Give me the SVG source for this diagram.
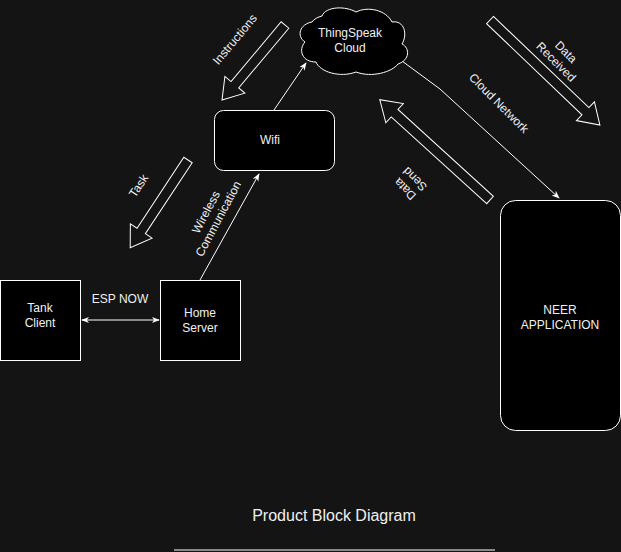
<svg xmlns="http://www.w3.org/2000/svg" width="621" height="552" viewBox="0 0 621 552">
<defs>
<style>
.n{fill:#000;stroke:#fff;stroke-width:1}
.t{font-family:"Liberation Sans",Arial,sans-serif;font-size:12px;fill:#f0f0f0;text-anchor:middle}
.c{stroke:#fff;stroke-width:1;fill:none}
.b{fill:none;stroke:#fff;stroke-width:1}
</style>
<marker id="a" viewBox="0 0 10 10" refX="9" refY="5" markerWidth="8" markerHeight="8" orient="auto-start-reverse"><path d="M0,1 L10,5 L0,9 L3,5 Z" fill="#fff"/></marker>
</defs>
<rect width="621" height="552" fill="#141414"/>
<g id="connectors">
<line class="c" x1="82" y1="320" x2="159" y2="320" stroke="#bbb" stroke-width="2" marker-start="url(#a)" marker-end="url(#a)"/>
<line class="c" x1="200" y1="280" x2="259" y2="174" marker-end="url(#a)"/>
<line class="c" x1="274" y1="110" x2="306" y2="63" marker-end="url(#a)"/>
<polyline class="c" points="402,61 440,89 559,198" marker-end="url(#a)"/>
<text class="t" x="120" y="303">ESP NOW</text>
<text class="t" transform="translate(213,216) rotate(-62)"><tspan x="0" y="-4">Wireless</tspan><tspan x="0" y="10">Communication</tspan></text>
<text class="t" transform="translate(496,106) rotate(45)">Cloud Network</text>
</g>
<g id="arrow-instructions">
<path class="b" transform="translate(285,25) rotate(130)" d="M0,-5 L78,-5 L78,-13 L98,0 L78,13 L78,5 L0,5 Z"/>
<text class="t" transform="translate(238,42) rotate(-50)">Instructions</text>
</g>
<g id="arrow-task">
<path class="b" transform="translate(188,160) rotate(123.4)" d="M0,-5 L85,-5 L85,-13 L105,0 L85,13 L85,5 L0,5 Z"/>
<text class="t" transform="translate(142,188) rotate(-57)">Task</text>
</g>
<g id="arrow-data-received">
<path class="b" transform="translate(490,20) rotate(43.7)" d="M0,-5 L132,-5 L132,-13 L152,0 L132,13 L132,5 L0,5 Z"/>
<text class="t" transform="translate(561,57) rotate(45)"><tspan x="0" y="-3">Data</tspan><tspan x="0" y="11">Received</tspan></text>
</g>
<g id="arrow-data-send">
<path class="b" transform="translate(490,200) rotate(222.3)" d="M0,-5 L129,-5 L129,-13 L149,0 L129,13 L129,5 L0,5 Z"/>
<text class="t" transform="translate(410,184) rotate(225)"><tspan x="0" y="-3">Data</tspan><tspan x="0" y="11">Send</tspan></text>
</g>
<g id="tank-client">
<rect class="n" x="0.5" y="280.5" width="80" height="80"/>
<text class="t"><tspan x="40" y="312">Tank</tspan><tspan x="40" y="327">Client</tspan></text>
</g>
<g id="home-server">
<rect class="n" x="160.5" y="280.5" width="80" height="80"/>
<text class="t"><tspan x="200" y="317">Home</tspan><tspan x="200" y="332">Server</tspan></text>
</g>
<g id="wifi">
<rect class="n" x="214.5" y="110.5" width="120" height="60" rx="9"/>
<text class="t" x="270" y="144">Wifi</text>
</g>
<g id="cloud">
<path class="n" d="M312,22 C300,24 296,36 305,42 C298,50 302,62 316,62 C320,72 340,78 356,72 C372,78 392,72 398,64 C410,60 410,48 402,44 C408,34 404,20 392,22 C386,10 368,6 356,12 C346,6 326,6 322,16 C318,17 314,19 312,22 Z"/>
<text class="t"><tspan x="350" y="37">ThingSpeak</tspan><tspan x="350" y="52">Cloud</tspan></text>
</g>
<g id="neer-application">
<rect class="n" x="500.5" y="200.5" width="120" height="230" rx="15"/>
<text class="t"><tspan x="560" y="314">NEER</tspan><tspan x="560" y="329">APPLICATION</tspan></text>
</g>
<g id="title">
<text class="t" x="334" y="521" style="font-size:16px">Product Block Diagram</text>
<line x1="174" y1="550" x2="495" y2="550" stroke="#fff" stroke-width="1"/>
</g>
</svg>
